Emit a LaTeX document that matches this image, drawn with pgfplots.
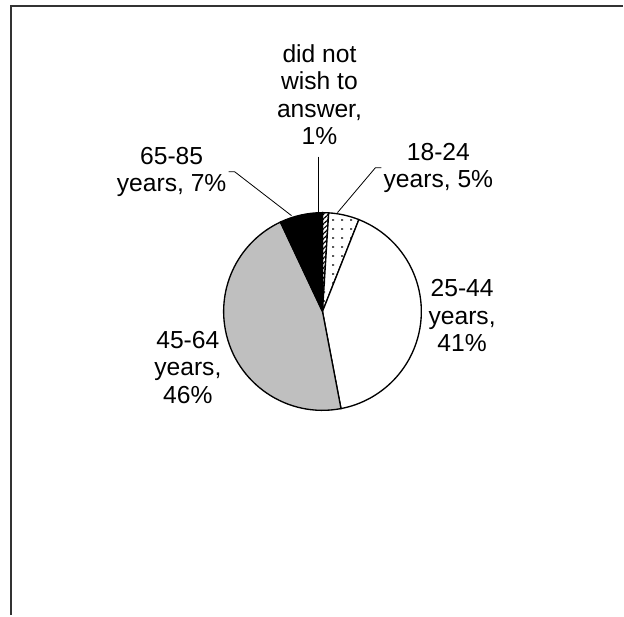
\documentclass[border=0pt]{standalone}
\usepackage{pgfplots}
\pgfplotsset{compat=1.18}
\usepackage{fontspec}
\setmainfont{Liberation Sans}
\usetikzlibrary{patterns,patterns.meta}

% sparse grey dots for the 18-24 slice
\tikzdeclarepattern{
  name=sparsedots,
  type=uncolored,
  bounding box={(0pt,0pt) and (6.5pt,6.5pt)},
  tile size={(6.5pt,6.5pt)},
  code={\fill (2.4pt,2.4pt) rectangle (3.9pt,3.9pt);}
}

% slice from cumulative share #1 to #2 (percent), clockwise from 12 o'clock
\newcommand{\pieslice}[3]{%
  \draw[#3] (axis cs:323,304) -- ++({90-3.6*#1}:74.25pt)
    arc[start angle={90-3.6*#1}, end angle={90-3.6*#2}, radius=74.25pt] -- cycle;}

\begin{document}
\begin{tikzpicture}
\begin{axis}[
    hide axis,
    scale only axis,
    x=0.75pt, y=0.75pt,
    xmin=0, xmax=624,
    ymin=0, ymax=616,
    clip=false,
]
\path (axis cs:0,0) rectangle (axis cs:624,616);
% chart area frame (cut off at right and bottom)
\draw[line width=1.5pt, black!80] (axis cs:11,0) -- (axis cs:11,609.5) -- (axis cs:624,609.5);

% shares: did not wish 1, 18-24 5, 25-44 41, 45-64 46, 65-85 7
\pieslice{0}{1}{line width=1pt, preaction={fill=white},
  pattern={Lines[angle=45, distance=2.6pt, line width=0.9pt]}}
\pieslice{1}{6}{line width=1pt, preaction={fill=white}, pattern=sparsedots, pattern color=black!65}
\pieslice{6}{47}{line width=1pt, fill=white}
\pieslice{47}{93}{line width=1pt, fill=black!25}
\pieslice{93}{100}{line width=1pt, fill=black}

% leader lines
\draw[line width=0.6pt] (axis cs:319,459) -- (axis cs:319,403);
\draw[line width=0.6pt] (axis cs:338,403) -- (axis cs:376,448) -- (axis cs:382,448);
\draw[line width=0.6pt] (axis cs:292,400) -- (axis cs:235,444) -- (axis cs:229,444);

\tikzset{lbl/.style={inner sep=0pt, align=center, font=\fontsize{18.5}{20.5}\selectfont}}
\node[lbl, anchor=south] at (axis cs:320,471) {did not\\wish to\\answer,\\1\%};
\node[lbl, anchor=west] at (axis cs:384,448) {18-24\\years, 5\%};
\node[lbl, anchor=west] at (axis cs:429,300) {25-44\\years,\\41\%};
\node[lbl, anchor=east] at (axis cs:222,248) {45-64\\years,\\46\%};
\node[lbl, anchor=east] at (axis cs:227,444) {65-85\\years, 7\%};
\end{axis}
\end{tikzpicture}
\end{document}
